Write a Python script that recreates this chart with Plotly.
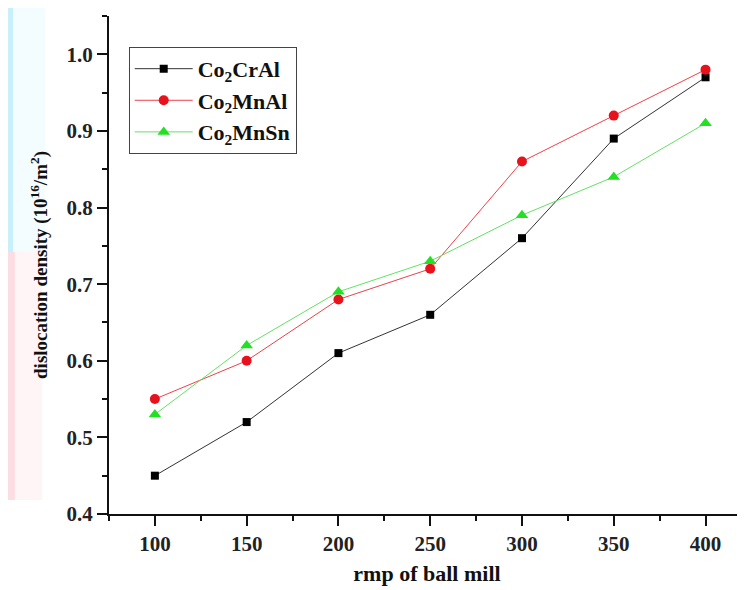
import plotly.graph_objects as go

rpm = [100, 150, 200, 250, 300, 350, 400]
co2cral = [0.45, 0.52, 0.61, 0.66, 0.76, 0.89, 0.97]
co2mnal = [0.55, 0.60, 0.68, 0.72, 0.86, 0.92, 0.98]
co2mnsn = [0.53, 0.62, 0.69, 0.73, 0.79, 0.84, 0.91]

names = ["Co<sub>2</sub>CrAl", "Co<sub>2</sub>MnAl", "Co<sub>2</sub>MnSn"]
series = [co2cral, co2mnal, co2mnsn]
line_colors = ["#333333", "#f0404a", "#66e066"]
marker_colors = ["#000000", "#e8121c", "#22e022"]
symbols = ["square", "circle", "triangle-up"]
sizes = [8, 10, 11]

FONT = "Liberation Serif"

fig = go.Figure()
for n, ys, lc, mc, sy, sz in zip(names, series, line_colors, marker_colors, symbols, sizes):
    fig.add_trace(go.Scatter(
        x=rpm, y=ys, name=n, mode="lines+markers",
        line=dict(color=lc, width=1),
        marker=dict(symbol=sy, size=sz, color=mc, line=dict(width=0)),
    ))

# faint watermark-like background tints on the left edge
tints = [
    (-0.1588, -0.1000, 0.526, 1.02, "#f3fcfe"),
    (-0.1588, -0.1050, 0.028, 0.526, "#fff4f6"),
    (-0.1588, -0.1509, 0.526, 1.02, "#c8f0fa"),
    (-0.1588, -0.1480, 0.028, 0.526, "#fcdde3"),
]
for x0, x1, y0, y1, c in tints:
    fig.add_shape(type="rect", xref="paper", yref="paper", x0=x0, x1=x1, y0=y0, y1=y1,
                  fillcolor=c, line=dict(width=0), layer="below")

fig.update_layout(
    width=745, height=590,
    margin=dict(l=101, r=8, t=8, b=84, autoexpand=False),
    paper_bgcolor="white", plot_bgcolor="white",
    font=dict(family=FONT, color="#111111"),
    showlegend=True,
    legend=dict(
        x=0.031, y=0.938, xanchor="left", yanchor="top",
        bgcolor="white", bordercolor="#444444", borderwidth=1,
        font=dict(family=FONT, size=22, color="#111111", weight="bold"),
        itemwidth=58,
    ),
    xaxis=dict(
        range=[75, 421.5], tickvals=rpm, showgrid=False, zeroline=False,
        showline=True, linecolor="#111111", linewidth=2,
        ticks="outside", ticklen=10, tickwidth=1.5, tickcolor="#111111",
        minor=dict(ticks="outside", ticklen=5, tickwidth=1.5, tickcolor="#111111", dtick=25),
        tickfont=dict(family=FONT, size=21, color="#222222", weight="bold"),
        title=dict(text="rmp of ball mill", font=dict(family=FONT, size=22, color="#111111", weight="bold"), standoff=10),
        automargin=False,
    ),
    yaxis=dict(
        range=[0.4, 1.05], tickvals=[0.4, 0.5, 0.6, 0.7, 0.8, 0.9, 1.0],
        ticktext=["0.4", "0.5", "0.6", "0.7", "0.8", "0.9", "1.0"],
        showgrid=False, zeroline=False,
        showline=True, linecolor="#111111", linewidth=2,
        ticks="outside", ticklen=10, tickwidth=1.5, tickcolor="#111111",
        minor=dict(ticks="outside", ticklen=5, tickwidth=1.5, tickcolor="#111111", dtick=0.05),
        tickfont=dict(family=FONT, size=21, color="#222222", weight="bold"),
        title=dict(text="dislocation density (10<sup>16</sup>/m<sup>2</sup>)",
                   font=dict(family=FONT, size=19, color="#111111", weight="bold"), standoff=14),
        automargin=False,
    ),
)

fig.write_html("out.html")
